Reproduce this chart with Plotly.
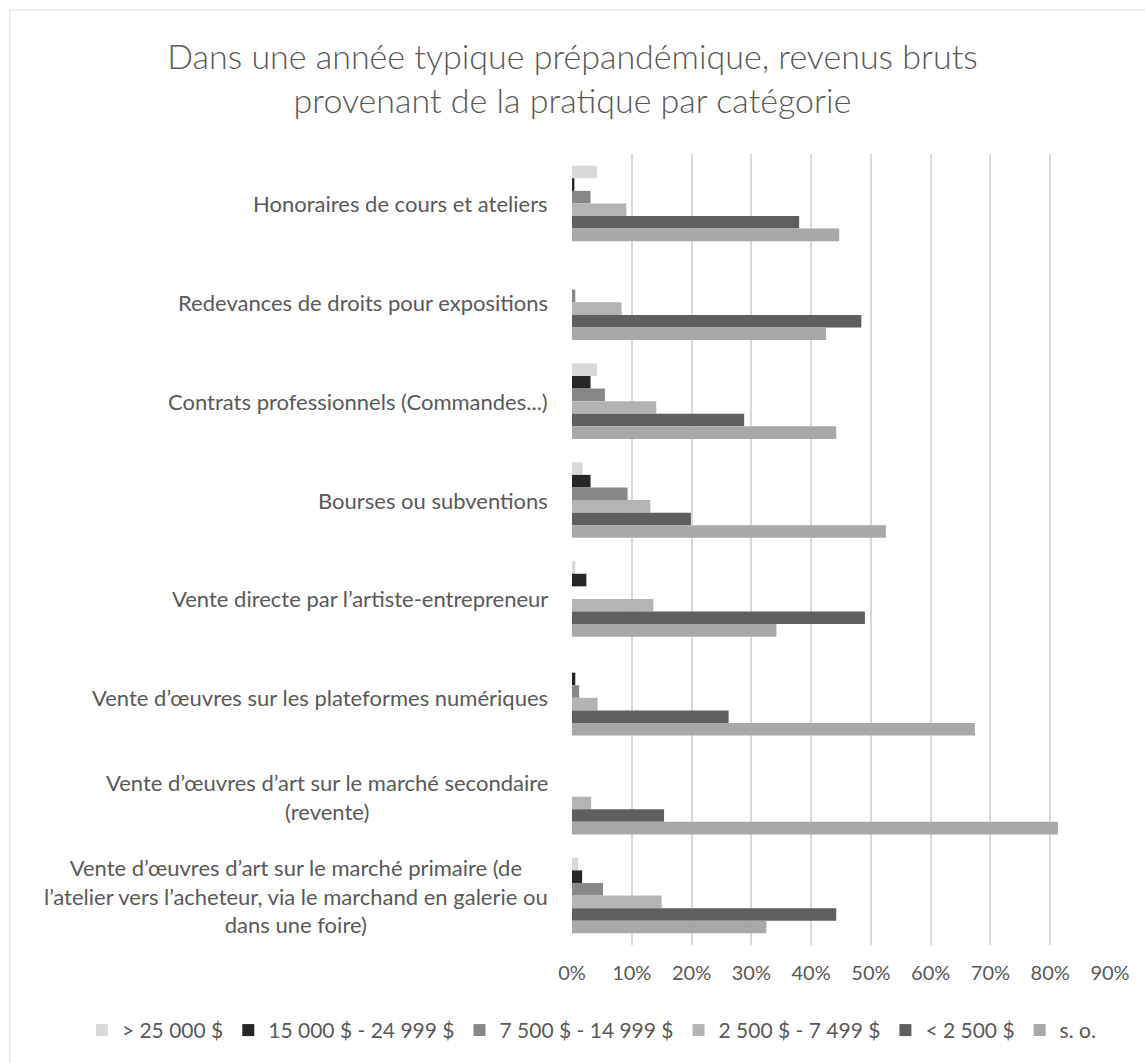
import plotly.graph_objects as go

categories = [
    "Honoraires de cours et ateliers",
    "Redevances de droits pour expositions",
    "Contrats professionnels (Commandes...)",
    "Bourses ou subventions",
    "Vente directe par l’artiste-entrepreneur",
    "Vente d’œuvres sur les plateformes numériques",
    "Vente d’œuvres d’art sur le marché secondaire<br>(revente)",
    "Vente d’œuvres d’art sur le marché primaire (de<br>l’atelier vers l’acheteur, via le marchand en galerie ou<br>dans une foire)",
]

series_names = ["> 25 000 $", "15 000 $ - 24 999 $", "7 500 $ - 14 999 $",
                "2 500 $ - 7 499 $", "< 2 500 $", "s. o."]

v_over_25000 = [0.042, 0.0, 0.042, 0.018, 0.0055, 0.0, 0.0, 0.010]
v_15000_24999 = [0.004, 0.0, 0.031, 0.031, 0.024, 0.0055, 0.0, 0.017]
v_7500_14999 = [0.031, 0.0055, 0.055, 0.093, 0.0, 0.012, 0.0, 0.052]
v_2500_7499 = [0.091, 0.083, 0.141, 0.131, 0.136, 0.043, 0.032, 0.150]
v_under_2500 = [0.380, 0.484, 0.288, 0.199, 0.490, 0.262, 0.154, 0.442]
v_so = [0.447, 0.425, 0.442, 0.525, 0.342, 0.674, 0.813, 0.325]

series_values = [v_over_25000, v_15000_24999, v_7500_14999, v_2500_7499, v_under_2500, v_so]
colors = ["#D9D9D9", "#262626", "#878787", "#B3B3B3", "#5F5F5F", "#A8A8A8"]

x_ticks = [0, 0.1, 0.2, 0.3, 0.4, 0.5, 0.6, 0.7, 0.8, 0.9]
x_tick_labels = ["0%", "10%", "20%", "30%", "40%", "50%", "60%", "70%", "80%", "90%"]

FONT = "Lato"
TXT = "#595959"

fig = go.Figure()
for name, vals, col in zip(series_names, series_values, colors):
    fig.add_trace(go.Bar(
        y=categories, x=vals, name=name, orientation="h",
        marker=dict(color=col, line=dict(width=0)),
    ))

for cat in categories:
    fig.add_annotation(
        x=0, xref="paper", y=cat, yref="y", text=cat, showarrow=False,
        xanchor="right", yanchor="middle", align="center", xshift=-22,
        font=dict(family=FONT, size=22, color=TXT),
    )

fig.add_shape(type="rect", xref="paper", yref="paper",
              x0=-1.045, x1=2.0, y0=-0.3, y1=1.182,
              line=dict(color="#D9D9D9", width=1), fillcolor="rgba(0,0,0,0)", layer="below")

fig.update_layout(
    width=1145, height=1063,
    margin=dict(l=572, r=35, t=154, b=116),
    paper_bgcolor="white", plot_bgcolor="white",
    barmode="group", bargap=0.236, bargroupgap=0,
    title=dict(
        text="Dans une année typique prépandémique, revenus bruts<br>provenant de la pratique par catégorie",
        x=0.5, xanchor="center", y=0.935, yanchor="middle", yref="container",
        font=dict(family=FONT, size=34, color=TXT, weight=300),
    ),
    xaxis=dict(
        range=[0, 0.9], tickvals=x_ticks, ticktext=x_tick_labels,
        showgrid=True, gridcolor="#D9D9D9", gridwidth=1.5,
        zeroline=False, showline=False,
        ticks="outside", ticklen=10, tickcolor="rgba(0,0,0,0)",
        tickfont=dict(family=FONT, size=20, color=TXT),
    ),
    yaxis=dict(
        autorange="reversed", showticklabels=False, showgrid=False,
        zeroline=False, showline=False, ticks="",
    ),
    legend=dict(
        orientation="h", xref="paper", yref="paper",
        x=-0.911, xanchor="left", y=-0.108, yanchor="middle",
        font=dict(family=FONT, size=21, color=TXT), traceorder="normal",
    ),
    showlegend=True,
)

fig.write_html("out.html")
